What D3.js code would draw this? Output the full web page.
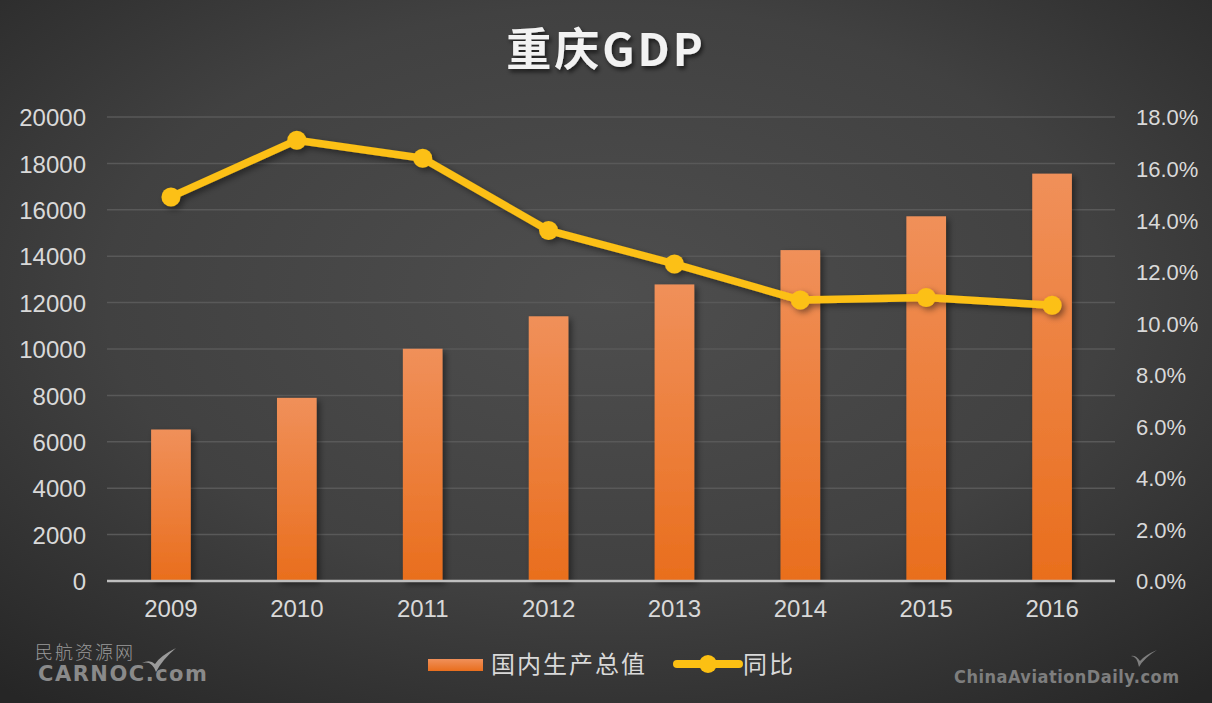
<!DOCTYPE html>
<html><head><meta charset="utf-8">
<script src="https://cdn.jsdelivr.net/npm/d3@7/dist/d3.min.js"></script>
<style>
html,body{margin:0;padding:0;background:#333;}
svg{display:block;}
</style></head>
<body>
<script>
const years = ["2009","2010","2011","2012","2013","2014","2015","2016"];
const gdp = [6530, 7894, 10011, 11410, 12783, 14263, 15720, 17559];
const growth = [14.9, 17.1, 16.4, 13.6, 12.3, 10.9, 11.0, 10.7];
const leftTicks = [0,2000,4000,6000,8000,10000,12000,14000,16000,18000,20000];
const rightTicks = [0,2,4,6,8,10,12,14,16,18];
const title = "重庆GDP";
const legendNames = ["国内生产总值","同比"];

const W = 1212, H = 703;
const m = {left:108, right:W-1115, top:117, bottom:H-581};
const svg = d3.select("body").append("svg").attr("width",W).attr("height",H);
const defs = svg.append("defs");

const bg = defs.append("radialGradient").attr("id","bg").attr("cx","50%").attr("cy","42%").attr("r","75%");
bg.append("stop").attr("offset","0%").attr("stop-color","#4e4e4e");
bg.append("stop").attr("offset","55%").attr("stop-color","#414141");
bg.append("stop").attr("offset","100%").attr("stop-color","#262626");
svg.append("rect").attr("width",W).attr("height",H).attr("fill","url(#bg)");

const bgr = defs.append("linearGradient").attr("id","bar").attr("x1",0).attr("x2",0).attr("y1",0).attr("y2",1);
bgr.append("stop").attr("offset","0%").attr("stop-color","#f0905a");
bgr.append("stop").attr("offset","100%").attr("stop-color","#e96e1d");

const sh = defs.append("filter").attr("id","sh").attr("x","-30%").attr("y","-30%").attr("width","160%").attr("height","160%");
sh.append("feDropShadow").attr("dx",3).attr("dy",3).attr("stdDeviation",3).attr("flood-color","#000").attr("flood-opacity",0.45);
const tsh = defs.append("filter").attr("id","tsh").attr("x","-10%").attr("y","-20%").attr("width","120%").attr("height","150%");
tsh.append("feDropShadow").attr("dx",2).attr("dy",3).attr("stdDeviation",2).attr("flood-color","#000").attr("flood-opacity",0.6);

const x = d3.scaleBand().domain(years).range([m.left, W-m.right]).paddingInner(0.685).paddingOuter(0.3425);
const yL = d3.scaleLinear().domain([0,20000]).range([H-m.bottom, m.top]);
const yR = d3.scaleLinear().domain([0,18]).range([H-m.bottom, m.top]);

// gridlines
svg.append("g").selectAll("line").data(leftTicks.slice(1)).join("line")
  .attr("x1",m.left-1).attr("x2",W-m.right)
  .attr("y1",d=>yL(d)).attr("y2",d=>yL(d))
  .attr("stroke","#595959").attr("stroke-width",1.5);

// left axis labels
const axL = svg.append("g").attr("transform",`translate(${m.left},0)`)
  .call(d3.axisLeft(yL).tickValues(leftTicks).tickSize(0).tickPadding(22).tickFormat(d3.format("d")));
axL.select(".domain").remove();
axL.selectAll("text").attr("font-family","'Liberation Sans', Arial, sans-serif").attr("font-size",24).attr("fill","#d9d9d9").attr("dy","0.36em");

// right axis labels
const axR = svg.append("g").attr("transform",`translate(${W-m.right},0)`)
  .call(d3.axisRight(yR).tickValues(rightTicks).tickSize(0).tickPadding(21).tickFormat(d=>d.toFixed(1)+"%"));
axR.select(".domain").remove();
axR.selectAll("text").attr("font-family","'Liberation Sans', Arial, sans-serif").attr("font-size",22).attr("fill","#d9d9d9").attr("dy","0.36em");

// bars
svg.append("g").selectAll("rect").data(years).join("rect")
  .attr("x",d=>x(d)).attr("width",x.bandwidth())
  .attr("y",(d,i)=>yL(gdp[i])).attr("height",(d,i)=>yL(0)-yL(gdp[i]))
  .attr("fill","url(#bar)").attr("filter","url(#sh)");

// x axis
const axX = svg.append("g").attr("transform",`translate(0,${H-m.bottom})`)
  .call(d3.axisBottom(x).tickSize(0).tickPadding(19));
axX.select(".domain").attr("d",`M${m.left-1},0H${W-m.right}`).attr("stroke","#bfbfbf").attr("stroke-width",2.5);
axX.selectAll("text").attr("font-family","'Liberation Sans', Arial, sans-serif").attr("font-size",24).attr("fill","#d9d9d9").attr("dy","0.71em");

// line
const line = d3.line().x((d,i)=>x(years[i])+x.bandwidth()/2).y(d=>yR(d));
const lg = svg.append("g").attr("filter","url(#sh)");
lg.append("path").datum(growth).attr("d",line).attr("fill","none")
  .attr("stroke","#fcc013").attr("stroke-width",7.5).attr("stroke-linejoin","round");
lg.selectAll("circle").data(growth).join("circle")
  .attr("cx",(d,i)=>x(years[i])+x.bandwidth()/2).attr("cy",d=>yR(d)).attr("r",9.5)
  .attr("fill","#fcc013");

// title
svg.append("text").attr("x",606).attr("y",66).attr("text-anchor","middle")
  .attr("font-family","'Noto Sans CJK SC', sans-serif").attr("font-weight","bold")
  .attr("font-size",45).attr("letter-spacing",3).attr("fill","#f2f2f2").attr("filter","url(#tsh)")
  .text(title);

// legend
const leg = svg.append("g");
leg.append("rect").attr("x",428).attr("y",659).attr("width",55).attr("height",12).attr("fill","url(#bar)");
leg.append("text").attr("x",491).attr("y",673).attr("font-family","'Noto Sans CJK SC', sans-serif")
  .attr("font-size",24).attr("letter-spacing",2).attr("fill","#d9d9d9").text(legendNames[0]);
leg.append("line").attr("x1",677).attr("x2",739).attr("y1",664).attr("y2",664).attr("stroke","#fcc013").attr("stroke-width",8).attr("stroke-linecap","round");
leg.append("circle").attr("cx",708).attr("cy",664).attr("r",9).attr("fill","#fcc013");
leg.append("text").attr("x",743).attr("y",673).attr("font-family","'Noto Sans CJK SC', sans-serif")
  .attr("font-size",24).attr("letter-spacing",2).attr("fill","#d9d9d9").text(legendNames[1]);

// watermarks
const wm = svg.append("g").attr("fill","#8c8c8c");
wm.append("text").attr("x",35).attr("y",659).attr("font-family","'Noto Sans CJK SC', sans-serif").attr("font-size",18).attr("font-weight","300").attr("letter-spacing",2).attr("fill","#9a9a9a").text("民航资源网");
wm.append("text").attr("x",38).attr("y",681).attr("font-family","'DejaVu Sans', sans-serif").attr("font-weight","bold").attr("font-size",21).attr("letter-spacing",1.5).attr("fill","#8a8a8a").text("CARNOC.com");
wm.append("path").attr("d","M142,663 Q152,660 156,672 Q162,660 176,648 Q160,656 155,664 Q150,659 142,663 Z").attr("fill","#9a9a9a");
wm.append("text").attr("x",954).attr("y",683).attr("font-family","'DejaVu Sans Condensed','DejaVu Sans', sans-serif").attr("font-weight","bold").attr("font-size",18).attr("fill","#7e7e7e").attr("textLength",225).text("ChinaAviationDaily.com");
wm.append("path").attr("d","M1131,656 Q1137,656 1139,667 Q1144,658 1157,650 Q1145,655 1140,661 Q1136,655 1131,656 Z").attr("fill","#7e7e7e");
</script>
</body></html>
